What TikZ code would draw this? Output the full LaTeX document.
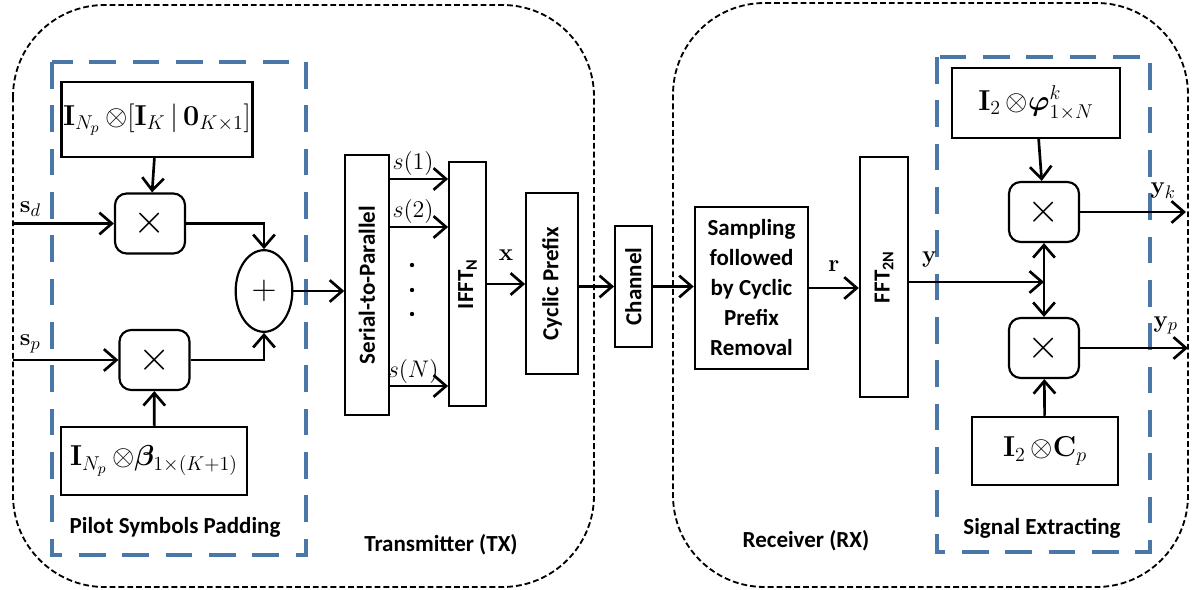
\documentclass[tikz,border=0pt]{standalone}
\usepackage{amsmath,bm}
\usepackage[no-math]{fontspec}
\setmainfont{Carlito}
\usetikzlibrary{arrows.meta,shapes.geometric}

\definecolor{grpblue}{RGB}{74,118,168}
\newcommand{\lblfont}{\fontsize{13.8}{18}\selectfont\bfseries}
\newcommand{\eqfont}{\fontsize{18}{20}\selectfont}
\newcommand{\sigfont}{\fontsize{15.5}{18}\selectfont}
\newcommand{\vtext}[1]{\rotatebox{90}{#1}}

\tikzset{
  blk/.style={draw, line width=1.3pt, inner sep=1pt, align=center, font=\lblfont},
  eqblk/.style={blk, font=\eqfont},
  mulbox/.style={draw, line width=1.3pt, rounded corners=7pt, minimum width=42pt,
    minimum height=36pt, inner sep=0pt, font=\fontsize{26}{26}\selectfont},
  sig/.style={line width=1.6pt, -{Straight Barb[length=7.5pt,width=13pt]}},
  grp/.style={draw=grpblue, line width=2.2pt, dash pattern=on 16pt off 10pt},
  side/.style={draw, line width=1.1pt, dash pattern=on 3.5pt off 1.8pt, rounded corners=55pt},
}

\begin{document}
\begin{tikzpicture}[x=0.6pt, y=-0.6pt]
\useasboundingbox (0,0) rectangle (1196,590);

% TX and RX frames
\draw[side] (13,5) rectangle (594,587);
\draw[side] (673,3) rectangle (1188,587);
\node[font=\lblfont] at (441,545) {Transmitter (TX)};
\node[font=\lblfont] at (806,541) {Receiver (RX)};

% pilot padding group
\draw[grp] (52,62) rectangle (306,555);
\node[font=\lblfont] at (175,527) {Pilot Symbols Padding};
\node[eqblk, minimum width=110pt, minimum height=45pt] (prjd) at (157,119.5)
  {$\mathbf{I}_{N_p}\,{\otimes}[\mathbf{I}_K\,|\,\mathbf{0}_{K\times1}]$};
\node[mulbox] (mixd) at (150,223.5) {$\times$};
\node[mulbox] (mixp) at (154.5,360) {$\times$};
\node[eqblk, minimum width=112pt, minimum height=41pt] (prjp) at (154,461)
  {$\mathbf{I}_{N_p}\,{\otimes}\boldsymbol{\beta}_{1\times(K+1)}$};
\node[draw, ellipse, line width=1.3pt, minimum width=34pt, minimum height=49pt,
  inner sep=0pt, font=\fontsize{22}{22}\selectfont] (add) at (264,291) {$+$};

\coordinate (sdin) at (13,223.5);
\coordinate (spin) at (13,360);
\draw[sig] (sdin) node[above right, font=\sigfont] {$\mathbf{s}_d$} -- (mixd);
\draw[sig] (spin) node[above right, font=\sigfont] {$\mathbf{s}_p$} -- (mixp);
\draw[sig] (prjd) -- (mixd);
\draw[sig] (prjp) -- (mixp);
\draw[sig] (mixd.east) -| (add.north);
\draw[sig] (mixp.east) -| (add.south);

% transmitter chain
\node[blk, minimum width=26pt, minimum height=156pt] (sp) at (367,285) {\vtext{Serial-to-Parallel}};
\node[blk, minimum width=22pt, minimum height=146pt] (ifft) at (467.5,284) {\vtext{IFFT\textsubscript{N}}};
\node[blk, minimum width=31pt, minimum height=109pt] (cp) at (552,283.5) {\vtext{Cyclic Prefix}};
\node[blk, minimum width=22pt, minimum height=73pt] (chan) at (633.5,286.5) {\vtext{Channel}};

\draw[sig] (add.east) -- (add.east -| sp.west);
\foreach \yy/\k [count=\i] in {179/1, 227/2, 386/N} {
  \coordinate (row\i) at (0,\yy);
  \draw[sig] (sp.east |- row\i) -- node[pos=0.4, above, inner sep=1pt, font=\sigfont] {$s(\k)$}
    (ifft.west |- row\i);
}
\foreach \yy in {265,290,314}
  \fill (412,\yy) circle (1.3pt);
\draw[sig] (ifft.east) -- node[above=10pt, font=\sigfont] {$\mathbf{x}$} (ifft.east -| cp.west);
\draw[sig] (cp.east |- chan.west) -- (chan.west);

% receiver chain
\node[blk, minimum width=68pt, minimum height=97pt] (samp) at (751.5,288)
  {Sampling\\followed\\by Cyclic\\Prefix\\Removal};
\node[blk, minimum width=29pt, minimum height=144pt] (fft) at (884,277) {\vtext{FFT\textsubscript{2N}}};
\draw[sig] (chan.east) -- (chan.east -| samp.west);
\draw[sig] (samp.east) -- node[above=6pt, font=\sigfont] {$\mathbf{r}$} (samp.east -| fft.west);

% signal extracting group
\draw[grp] (937,57) rectangle (1150,552);
\node[font=\lblfont] at (1042,528) {Signal Extracting};
\node[eqblk, minimum width=101pt, minimum height=42pt] (prjk) at (1036,103)
  {$\mathbf{I}_2\,{\otimes}\boldsymbol{\varphi}^{k}_{1\times N}$};
\node[mulbox] (extk) at (1044,212) {$\times$};
\node[mulbox] (extp) at (1044,348) {$\times$};
\node[eqblk, minimum width=88pt, minimum height=41pt] (prjc) at (1045,451)
  {$\mathbf{I}_2\,{\otimes}\mathbf{C}_p$};

\coordinate (jn) at (1044,282);
\coordinate (ykout) at (1186,212);
\coordinate (ypout) at (1188,348);
\draw[sig] (fft.east |- jn) -- node[pos=0.15, above=5pt, font=\sigfont] {$\mathbf{y}$} (jn);
\draw[sig] (jn) -- (extk.south);
\draw[sig] (jn) -- (extp.north);
\draw[sig] (prjk) -- (extk);
\draw[sig] (prjc) -- (extp);
\draw[sig] (extk.east) -- (ykout) node[above left, xshift=-2pt, yshift=4pt, font=\sigfont] {$\mathbf{y}_k$};
\draw[sig] (extp.east) -- (ypout) node[above left, xshift=-2pt, yshift=4pt, font=\sigfont] {$\mathbf{y}_p$};
\end{tikzpicture}
\end{document}
